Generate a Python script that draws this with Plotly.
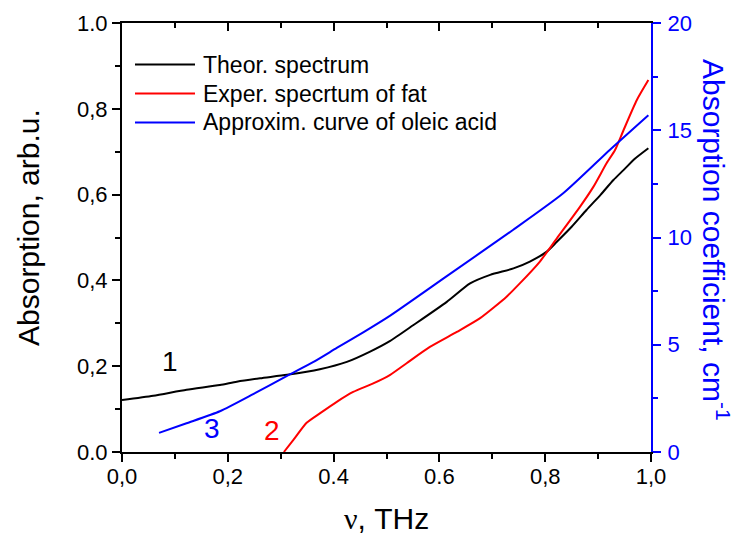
import plotly.graph_objects as go

# Theoretical spectrum (left axis)
theor_x = [0.0, 0.059, 0.122, 0.185, 0.217, 0.261, 0.312, 0.374, 0.425, 0.469, 0.507, 0.551, 0.614, 0.658, 0.696, 0.74, 0.771, 0.803, 0.822, 0.85, 0.878, 0.905, 0.929, 0.948, 0.97, 0.995]
theor_y = [0.121, 0.131, 0.145, 0.156, 0.164, 0.172, 0.180, 0.193, 0.210, 0.234, 0.259, 0.296, 0.350, 0.393, 0.413, 0.428, 0.444, 0.467, 0.490, 0.525, 0.564, 0.600, 0.634, 0.657, 0.684, 0.708]

# Experimental spectrum of fat (left axis)
fat_x = [0.306, 0.324, 0.349, 0.374, 0.406, 0.437, 0.475, 0.507, 0.538, 0.582, 0.633, 0.677, 0.727, 0.752, 0.790, 0.822, 0.866, 0.891, 0.916, 0.932, 0.948, 0.973, 0.995]
fat_y = [0.0, 0.028, 0.068, 0.090, 0.117, 0.140, 0.160, 0.180, 0.207, 0.245, 0.280, 0.312, 0.362, 0.393, 0.444, 0.498, 0.572, 0.618, 0.673, 0.704, 0.750, 0.820, 0.867]

# Approximated curve of oleic acid (right axis, cm^-1)
oleic_x = [0.07, 0.122, 0.185, 0.248, 0.312, 0.362, 0.406, 0.456, 0.507, 0.614, 0.739, 0.834, 0.922, 0.995]
oleic_y = [0.89, 1.34, 1.90, 2.70, 3.55, 4.20, 4.85, 5.58, 6.36, 8.2, 10.35, 12.06, 14.08, 15.7]

series_names = ["Theor. spectrum", "Exper. specrtum of fat", "Approxim. curve of oleic acid"]
series_colors = ["black", "red", "blue"]

x_tickvals = [0.0, 0.2, 0.4, 0.6, 0.8, 1.0]
x_ticktext = ["0,0", "0,2", "0.4", "0.6", "0,8", "1,0"]
y_tickvals = [0.0, 0.2, 0.4, 0.6, 0.8, 1.0]
y_ticktext = ["0.0", "0,2", "0,4", "0,6", "0,8", "1.0"]
y2_tickvals = [0, 5, 10, 15, 20]
y2_ticktext = ["0", "5", "10", "15", "20"]

FONT = "Arial, Liberation Sans, sans-serif"
TICK = 22
TITLE = 30

# plot-area geometry (px) used to place paper-referenced decorations
L, R, T, B = 122, 651, 23, 452
W, H = R - L, B - T


def px_x(px):
    return (px - L) / W


def px_y(py):
    return (B - py) / H


fig = go.Figure()
fig.add_trace(go.Scatter(x=theor_x, y=theor_y, mode="lines", name=series_names[0],
                         line=dict(color=series_colors[0], width=2, shape="spline", smoothing=0.6),
                         showlegend=False))
fig.add_trace(go.Scatter(x=fat_x, y=fat_y, mode="lines", name=series_names[1],
                         line=dict(color=series_colors[1], width=2, shape="spline", smoothing=0.6),
                         showlegend=False))
fig.add_trace(go.Scatter(x=oleic_x, y=oleic_y, mode="lines", name=series_names[2],
                         line=dict(color=series_colors[2], width=2, shape="spline", smoothing=0.6),
                         yaxis="y2", showlegend=False))

fig.update_layout(
    width=735, height=538,
    margin=dict(l=L, r=735 - R, t=T, b=538 - B),
    plot_bgcolor="white", paper_bgcolor="white",
    font=dict(family=FONT, color="black", size=TICK),
    showlegend=False,
    xaxis=dict(range=[0, 1], tickvals=x_tickvals, ticktext=x_ticktext, automargin=False,
               showline=True, linecolor="black", linewidth=2, ticks="outside",
               ticklen=8, tickwidth=2, tickcolor="black", showgrid=False, zeroline=False,
               ticklabelstandoff=-4, tickfont=dict(size=TICK),
               minor=dict(dtick=0.1, ticks="outside", ticklen=5, tickwidth=2, tickcolor="black")),
    xaxis2=dict(range=[0, 1], overlaying="x", side="top", showline=True, linecolor="black",
                linewidth=2, ticks="inside", ticklen=8, tickwidth=2, tickcolor="black", automargin=False,
                tickvals=x_tickvals, showticklabels=False, showgrid=False, zeroline=False,
                minor=dict(dtick=0.1, ticks="inside", ticklen=5, tickwidth=2, tickcolor="black")),
    yaxis=dict(range=[0, 1], tickvals=y_tickvals, ticktext=y_ticktext, automargin=False,
               showline=True, linecolor="black", linewidth=2, ticks="outside",
               ticklen=8, tickwidth=2, tickcolor="black", showgrid=False, zeroline=False,
               ticklabelstandoff=0, tickfont=dict(size=TICK),
               minor=dict(dtick=0.1, ticks="outside", ticklen=5, tickwidth=2, tickcolor="black")),
    yaxis2=dict(range=[0, 20], overlaying="y", side="right", tickvals=y2_tickvals, automargin=False,
                ticktext=y2_ticktext, showline=True, linecolor="blue", linewidth=2,
                ticks="outside", ticklen=8, tickwidth=2, tickcolor="blue",
                ticklabelstandoff=2,
                tickfont=dict(color="blue", size=TICK), showgrid=False, zeroline=False,
                minor=dict(dtick=2.5, ticks="outside", ticklen=5, tickwidth=2, tickcolor="blue")),
)

# invisible trace to activate top axis
fig.add_trace(go.Scatter(x=[0, 1], y=[0, 0], xaxis="x2", mode="lines",
                         line=dict(color="rgba(0,0,0,0)"), showlegend=False, hoverinfo="skip"))

# Legend drawn in the upper-left corner
leg_y_px = [64.5, 93.5, 122.5]
for name, color, ypx in zip(series_names, series_colors, leg_y_px):
    fig.add_shape(type="line", xref="paper", yref="paper",
                  x0=px_x(135), x1=px_x(195), y0=px_y(ypx), y1=px_y(ypx),
                  line=dict(color=color, width=2))
    fig.add_annotation(text=name, xref="paper", yref="paper", x=px_x(201), y=px_y(ypx),
                       xanchor="left", yanchor="middle", showarrow=False,
                       font=dict(size=23, color="black", family=FONT))

# Axis titles
fig.add_annotation(text='<span style="font-family:Liberation Serif">ν</span>, THz',
                   xref="paper", yref="paper", x=0.5, y=px_y(518), xanchor="center",
                   yanchor="middle", showarrow=False, font=dict(size=TITLE, color="black", family=FONT))
fig.add_annotation(text="Absorption, arb.u.", textangle=-90,
                   xref="paper", yref="paper", x=px_x(28), y=px_y(228), xanchor="center",
                   yanchor="middle", showarrow=False, font=dict(size=TITLE, color="black", family=FONT))
fig.add_annotation(text="Absorption coefficient, cm<sup>-1</sup>", textangle=90,
                   xref="paper", yref="paper", x=px_x(716), y=px_y(240), xanchor="center",
                   yanchor="middle", showarrow=False, font=dict(size=TITLE, color="blue", family=FONT))

# Curve labels
fig.add_annotation(text="1", x=0.091, y=0.21, xref="x", yref="y", showarrow=False,
                   font=dict(size=28, color="black"))
fig.add_annotation(text="3", x=0.171, y=0.054, xref="x", yref="y", showarrow=False,
                   font=dict(size=28, color="blue"))
fig.add_annotation(text="2", x=0.284, y=0.051, xref="x", yref="y", showarrow=False,
                   font=dict(size=28, color="red"))

fig.write_html("out.html")
